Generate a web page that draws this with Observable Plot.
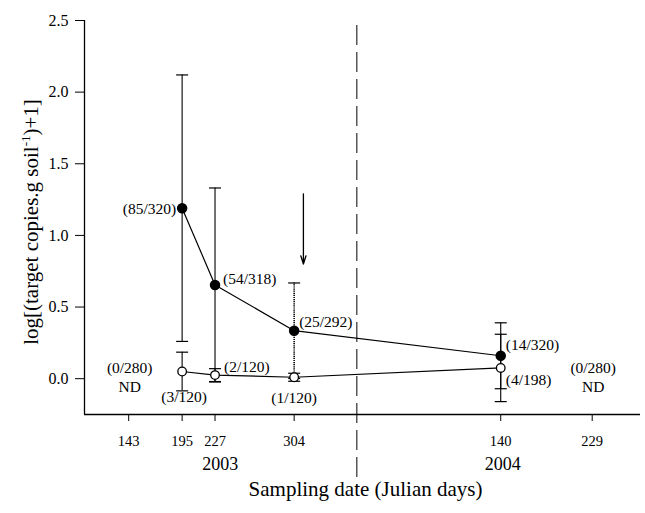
<!DOCTYPE html>
<html>
<head>
<meta charset="utf-8">
<script src="https://cdn.jsdelivr.net/npm/d3@7"></script>
<script src="https://cdn.jsdelivr.net/npm/@observablehq/plot@0.6"></script>
<style>
  body { margin: 0; background: #fff; }
  #chart svg { display: block; }
  #chart svg, #chart svg text { font-family: "Times New Roman", Times, "Liberation Serif", Tinos, "DejaVu Serif", serif !important; }
</style>
</head>
<body>
<div id="chart"></div>
<script>
// ---- data ----
const sampleYear = [2003, 2003, 2003, 2003, 2004, 2004];
const sampleDay  = [143, 195, 227, 304, 140, 229];
const measuredIdx = [1, 2, 3, 4];            // dates with detections
const ndIdx = [0, 5];                          // dates not detected
const ndLabels = ["(0/280)", "(0/280)"];

const filledMean   = [1.19, 0.654, 0.335, 0.16];
const filledErr    = [0.93, 0.677, 0.333, 0.23];
const filledLabels = ["(85/320)", "(54/318)", "(25/292)", "(14/320)"];
const filledDotted = [false, false, true, false];

const openMean   = [0.05, 0.025, 0.01, 0.075];
const openErr    = [0.135, 0.045, 0.028, 0.235];
const openLabels = ["(3/120)", "(2/120)", "(1/120)", "(4/198)"];

const yTicks = [0, 0.5, 1.0, 1.5, 2.0, 2.5];
const years = [2003, 2004];

// annotation values (study days / y values)
const yearBoundary = 365;
const arrowAt = {x: 313, from: 1.29, to: 0.80};
const yearLabelDay = [232, 507];

// ---- derived ----
const studyDay = sampleDay.map((d, i) => d + (sampleYear[i] - 2003) * 365);
const filled = measuredIdx.map((k, j) => ({
  x: studyDay[k], y: filledMean[j], lo: filledMean[j] - filledErr[j], hi: filledMean[j] + filledErr[j],
  label: filledLabels[j], dotted: filledDotted[j]
}));
const open = measuredIdx.map((k, j) => ({
  x: studyDay[k], y: openMean[j], lo: openMean[j] - openErr[j], hi: openMean[j] + openErr[j],
  label: openLabels[j]
}));
const nd = ndIdx.map((k, j) => ({x: studyDay[k], y: 0, label: ndLabels[j]}));
const caps = [...filled, ...open].flatMap(d => [{x: d.x, y: d.lo}, {x: d.x, y: d.hi}]);

// label placement (style)
const filledLayout = [
  {textAnchor: "end", dx: -6, dy: 1},
  {textAnchor: "start", dx: 8, dy: -6},
  {textAnchor: "start", dx: 5, dy: -9},
  {textAnchor: "start", dx: 5, dy: -11}
];
const openLayout = [
  {textAnchor: "middle", dx: 2, dy: 26},
  {textAnchor: "start", dx: 9, dy: -8},
  {textAnchor: "middle", dx: 0, dy: 21},
  {textAnchor: "start", dx: 5, dy: 12}
];

const capSymbol = {
  draw(context, size) {
    const r = Math.sqrt(size / Math.PI);
    context.moveTo(-r, 0);
    context.lineTo(r, 0);
  }
};

const font = 15.5;
const labelMarks = [];
filled.forEach((d, i) => labelMarks.push(Plot.text([d], {x: "x", y: "y", text: "label", fontSize: font, ...filledLayout[i]})));
open.forEach((d, i) => labelMarks.push(Plot.text([d], {x: "x", y: "y", text: "label", fontSize: font, ...openLayout[i]})));

const chart = Plot.plot({
  width: 645,
  height: 513,
  marginLeft: 84,
  marginRight: 5,
  marginTop: 20,
  marginBottom: 99,
  style: "color: black; background: white;",
  x: {domain: [100, 641]},
  y: {domain: [-0.25, 2.5]},
  marks: [
    Plot.ruleX([100], {stroke: "black", strokeWidth: 1.3}),
    Plot.ruleY([-0.25], {stroke: "black", strokeWidth: 1.3}),
    Plot.axisY({ticks: yTicks, tickFormat: d3.format(".1f"), tickSize: 9, tickPadding: 7, fontSize: 16, label: null}),
    Plot.axisX({ticks: studyDay, tickFormat: (d) => sampleDay[studyDay.indexOf(d)], tickSize: 7, tickPadding: 14, fontSize: 14.5, label: null}),
    Plot.ruleX([yearBoundary], {y1: 2.465, y2: -0.77, stroke: "black", strokeWidth: 1, strokeDasharray: "20,7"}),
    Plot.arrow([arrowAt], {x1: "x", x2: "x", y1: "from", y2: "to", stroke: "black", strokeWidth: 1.3, headLength: 10, headAngle: 35}),
    // error bars
    Plot.ruleX(filled.filter(d => !d.dotted), {x: "x", y1: "lo", y2: "hi", stroke: "black", strokeWidth: 1.1}),
    Plot.ruleX(filled.filter(d => d.dotted), {x: "x", y1: "lo", y2: "hi", stroke: "black", strokeWidth: 1.6, strokeDasharray: "1.2,0.9"}),
    Plot.ruleX(open, {x: "x", y1: "lo", y2: "hi", stroke: "black", strokeWidth: 1.1}),
    Plot.dot(caps, {x: "x", y: "y", r: 6, symbol: capSymbol, stroke: "black", fill: "none", strokeWidth: 1.2}),
    // series lines
    Plot.line(filled, {x: "x", y: "y", stroke: "black", strokeWidth: 1.2}),
    Plot.line(open, {x: "x", y: "y", stroke: "black", strokeWidth: 1.2}),
    Plot.dot(filled, {x: "x", y: "y", r: 4.5, fill: "black", stroke: "black"}),
    Plot.dot(open, {x: "x", y: "y", r: 4.3, fill: "white", stroke: "black", strokeWidth: 1.3}),
    ...labelMarks,
    Plot.text(nd, {x: "x", y: "y", text: "label", fontSize: font, dx: 1, dy: -11}),
    Plot.text(nd, {x: "x", y: "y", text: () => "ND", fontSize: font, dx: 1, dy: 8}),
    Plot.text(years, {x: (d, i) => yearLabelDay[i], frameAnchor: "bottom", text: (d) => String(d), fontSize: 18, dy: 55}),
    Plot.text(["Sampling date (Julian days)"], {frameAnchor: "bottom", fontSize: 21, dy: 81, dx: 3})
  ]
});

// y-axis label with superscript
const svg = d3.select(chart);
const yLab = svg.append("text")
  .attr("transform", "translate(38,222) rotate(-90)")
  .attr("text-anchor", "middle")
  .attr("font-size", 21)
  .attr("fill", "black");
yLab.append("tspan").text("log[(target copies.g soil");
yLab.append("tspan").attr("font-size", 13).attr("dy", -8).text("-1");
yLab.append("tspan").attr("dy", 8).text(")+1]");

document.getElementById("chart").appendChild(chart);
</script>
</body>
</html>
